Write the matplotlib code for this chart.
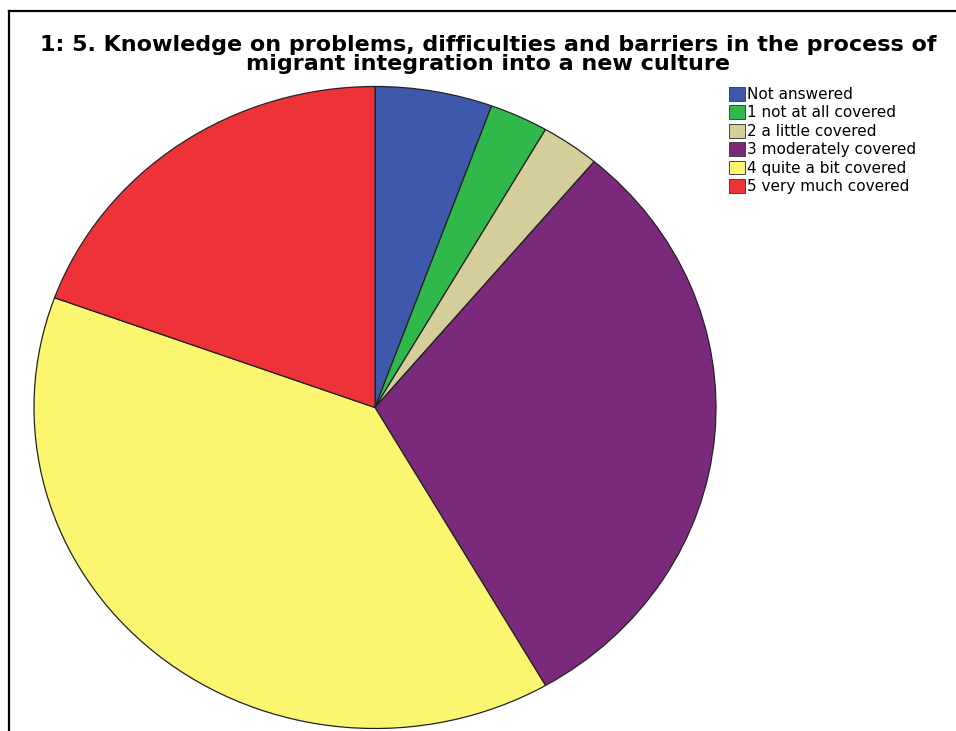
import matplotlib
matplotlib.use("Agg")
import matplotlib.pyplot as plt
from matplotlib.lines import Line2D

categories = ["Not answered", "1 not at all covered", "2 a little covered",
              "3 moderately covered", "4 quite a bit covered", "5 very much covered"]
counts = [2, 1, 1, 11, 14, 7]
colors = ["#3E58AC", "#30B84A", "#D4CE9A", "#7B2A7B", "#FAF66F", "#EE3338"]

title_lines = ["1: 5. Knowledge on problems, difficulties and barriers in the process of",
               "migrant integration into a new culture"]

W, H = 956, 731
fig = plt.figure(figsize=(W / 100, H / 100), dpi=100)

# Pie axes placed so the (slightly wide) ellipse matches the reference
cx, cy, rx, ry = 375, 407.5, 341, 321
ax = fig.add_axes([(cx - rx) / W, (H - cy - ry) / H, 2 * rx / W, 2 * ry / H])
wedges, _ = ax.pie(counts, colors=colors, startangle=90, counterclock=False,
                   radius=1, wedgeprops=dict(edgecolor="#222222", linewidth=0.9))
ax.set_aspect("auto")
ax.set_xlim(-1, 1)
ax.set_ylim(-1, 1)
ax.axis("off")

# Title, two centred lines set close together
for line, base in zip(title_lines, [51, 70]):
    fig.text(488 / W, 1 - base / H, line, ha="center", va="baseline", fontsize=16,
             fontweight="bold", family="DejaVu Sans")

# Legend (no frame, small square swatches)
leg = fig.legend(wedges, categories, loc="upper left",
                 bbox_to_anchor=(729 / W, 1 - 87 / H), frameon=False,
                 fontsize=11, handlelength=1.05, handleheight=1.0,
                 handletextpad=0.15, labelspacing=0.22, borderpad=0,
                 borderaxespad=0)
for h in leg.legend_handles:
    h.set_edgecolor("#444444")
    h.set_linewidth(0.7)

# Frame lines (top and left) as in the screenshot
fig.add_artist(Line2D([9 / W, 9 / W], [0, 1 - 11 / H], transform=fig.transFigure,
                      color="black", linewidth=1.6))
fig.add_artist(Line2D([9 / W, 1], [1 - 11 / H, 1 - 11 / H], transform=fig.transFigure,
                      color="black", linewidth=1.6))

fig.savefig("out.png", dpi=100)
